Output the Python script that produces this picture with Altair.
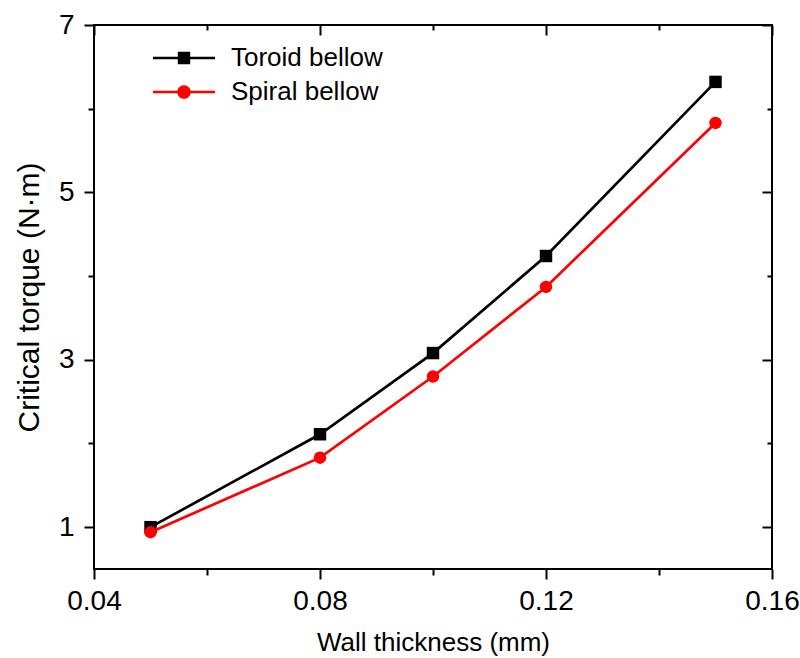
import altair as alt
import pandas as pd

# ---- data ----
thickness = [0.05, 0.08, 0.10, 0.12, 0.15]
toroid = [1.00, 2.11, 3.08, 4.24, 6.32]
spiral = [0.94, 1.83, 2.80, 3.87, 5.83]
series = ["Toroid bellow", "Spiral bellow"]
colors = ["#000000", "#ff0000"]
shapes = ["square", "circle"]
x_major = [0.04, 0.08, 0.12, 0.16]
x_minor = [0.06, 0.10, 0.14]
y_major = [1, 3, 5, 7]
y_minor = [2, 4, 6]

rows = []
for s, vals in zip(series, [toroid, spiral]):
    for t, v in zip(thickness, vals):
        rows.append({"thickness": t, "torque": v, "series": s})
df = pd.DataFrame(rows)

FONT = "Liberation Sans"
xs = alt.Scale(domain=[0.04, 0.16], nice=False, zero=False)
ys = alt.Scale(domain=[0.5, 7], nice=False, zero=False)
cs = alt.Scale(domain=series, range=colors)

# legend symbols: filled bar (line) with the marker in the middle
legend_paths = [
    "M-3.1,-0.13H3.1V0.13H-3.1ZM-0.62,-0.62H0.62V0.62H-0.62Z",
    "M-3.1,-0.13H3.1V0.13H-3.1ZM-0.68,0A0.68,0.68 0 1,1 0.68,0A0.68,0.68 0 1,1 -0.68,0Z",
]
ls = alt.Scale(domain=series, range=legend_paths)

legend = alt.Legend(
    orient="none", legendX=77, legendY=20, title=None,
    symbolSize=400, symbolStrokeWidth=0, symbolOpacity=1,
    labelFontSize=26, labelFont=FONT, labelColor="black",
    labelOffset=34, rowPadding=8, padding=0,
)

base = alt.Chart(df)

ax_common = dict(grid=False, domain=False, tickColor="black", tickWidth=2,
                 labelColor="black", titleColor="black", labelFont=FONT,
                 titleFont=FONT, labelFlush=False)


def series_layer(i, with_axes):
    sub = base.transform_filter(alt.datum.series == series[i])
    if with_axes:
        x = alt.X("thickness:Q", scale=xs, axis=alt.Axis(
            orient="bottom", values=x_major, format=".2f", tickSize=10,
            labelFontSize=28, labelPadding=8, title="Wall thickness (mm)",
            titleFontSize=26, titleFontWeight="normal", titlePadding=14, **ax_common))
        y = alt.Y("torque:Q", scale=ys, axis=alt.Axis(
            orient="left", values=y_major, format="d", tickSize=10,
            labelFontSize=28, labelPadding=10, title="Critical torque (N·m)",
            titleFontSize=30, titleFontWeight="normal", titlePadding=14, **ax_common))
    else:
        x = alt.X("thickness:Q", scale=xs, axis=None)
        y = alt.Y("torque:Q", scale=ys, axis=None)
    line = sub.mark_line(strokeWidth=2.7, color=colors[i]).encode(x=x, y=y)
    pts = sub.mark_point(
        filled=True, opacity=1, size=155, shape=shapes[i], color=colors[i]
    ).encode(
        x=alt.X("thickness:Q", scale=xs, axis=None),
        y=alt.Y("torque:Q", scale=ys, axis=None),
    )
    return [line, pts]


legend_layer = base.transform_filter(alt.datum.torque < 0).mark_point(
    filled=True, opacity=1, size=400, strokeWidth=0
).encode(
    x=alt.X("thickness:Q", scale=xs, axis=None),
    y=alt.Y("torque:Q", scale=ys, axis=None),
    color=alt.Color("series:N", scale=cs, legend=legend),
    shape=alt.Shape("series:N", scale=ls, legend=legend),
)


def tick_layer(xo, yo, xv, yv, size, offset):
    return base.mark_point(opacity=0).encode(
        x=alt.X("thickness:Q", scale=xs, axis=alt.Axis(
            orient=xo, values=xv, tickSize=size, offset=offset, labels=False,
            title=None, **ax_common)),
        y=alt.Y("torque:Q", scale=ys, axis=alt.Axis(
            orient=yo, values=yv, tickSize=size, offset=offset, labels=False,
            title=None, **ax_common)),
    )


minor_in = tick_layer("bottom", "left", x_minor, y_minor, 6, 0)
mirror_major = tick_layer("top", "right", x_major, y_major, 10, -10)
mirror_minor = tick_layer("top", "right", x_minor, y_minor, 5, -5)

layers = series_layer(0, True) + series_layer(1, False) + [
    legend_layer, minor_in, mirror_major, mirror_minor]

chart = alt.layer(*layers).resolve_axis(
    x="independent", y="independent"
).properties(
    width=678, height=544,
    autosize=alt.AutoSizeParams(type="none"),
    padding={"left": 94, "top": 25, "right": 28, "bottom": 89},
    background="white",
).configure_view(stroke="black", strokeWidth=2)

chart.save("out.html", embed_options={"renderer": "svg", "actions": False})
